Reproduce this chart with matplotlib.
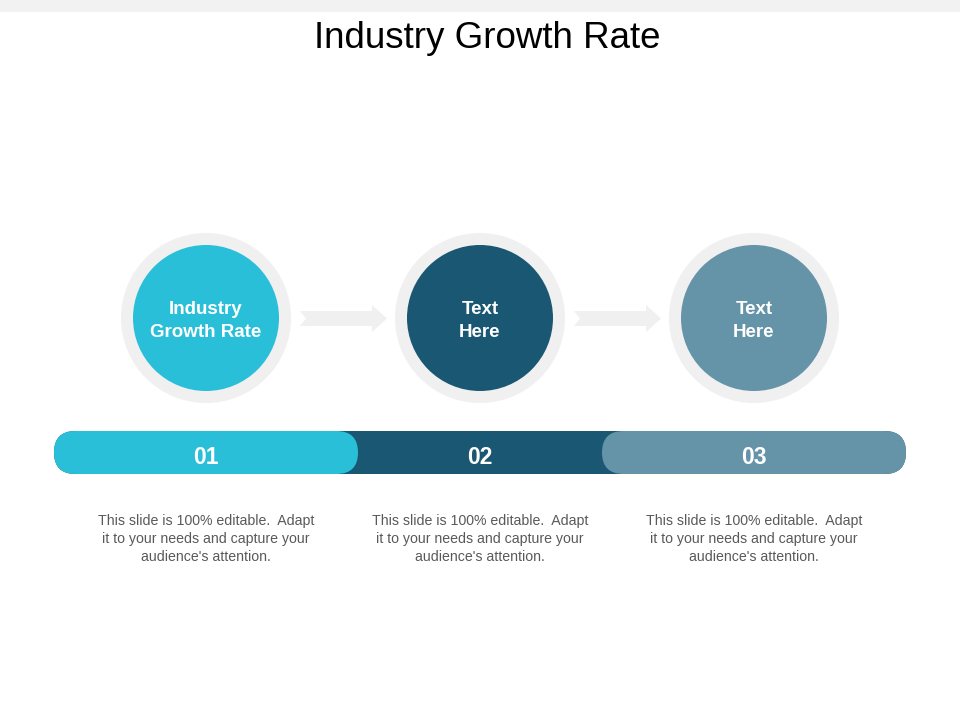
import matplotlib
matplotlib.use("Agg")
import matplotlib.pyplot as plt
from matplotlib.patches import Circle, FancyBboxPatch, Polygon, Rectangle

# data
step_labels = ["Industry\nGrowth Rate", "Text\nHere", "Text\nHere"]
step_numbers = ["01", "02", "03"]
step_colors = ["#29BFD9", "#1A5773", "#6593A8"]
descriptions = ["This slide is 100% editable.  Adapt\nit to your needs and capture your\naudience's attention."] * 3
title = "Industry Growth Rate"

plt.rcParams['font.family'] = ['Liberation Sans', 'DejaVu Sans']

fig = plt.figure(figsize=(9.6, 7.2), dpi=100)
ax = fig.add_axes([0, 0, 1, 1])
ax.set_xlim(0, 960)
ax.set_ylim(720, 0)
ax.axis('off')

# top band
ax.add_patch(Rectangle((0, 0), 960, 12, color="#F2F2F2", lw=0))
ax.text(487, 39, title, ha='center', va='center', fontsize=26.5, color="black")

centers = [206, 480, 754]
cy = 318

for i, cx in enumerate(centers):
    ax.add_patch(Circle((cx, cy), 85, color="#F0F0F0", lw=0))
    ax.add_patch(Circle((cx, cy), 73, color=step_colors[i], lw=0))
    ax.text(cx, cy + 3, step_labels[i], ha='center', va='center', fontsize=13.5,
            fontweight='bold', color='white', linespacing=1.4)

# arrows between circles
for cx in centers[:-1]:
    x0 = cx + 94
    pts = [(x0, 311), (x0 + 72, 311), (x0 + 72, 305), (x0 + 87, 318.5),
           (x0 + 72, 332), (x0 + 72, 326), (x0, 326), (x0 + 6, 318.5)]
    ax.add_patch(Polygon(pts, closed=True, color="#F0F0F0", lw=0))

# bottom bar
bar_y, bar_h = 431, 43
ax.add_patch(FancyBboxPatch((54, bar_y), 852, bar_h, boxstyle="round,pad=0,rounding_size=21.5",
                            color=step_colors[1], lw=0))
ax.add_patch(FancyBboxPatch((54, bar_y), 304, bar_h, boxstyle="round,pad=0,rounding_size=21.5",
                            color=step_colors[0], lw=0, zorder=3))
ax.add_patch(FancyBboxPatch((602, bar_y), 304, bar_h, boxstyle="round,pad=0,rounding_size=21.5",
                            color=step_colors[2], lw=0, zorder=3))

for i, cx in enumerate(centers):
    ax.text(cx, 458, step_numbers[i], ha='center', va='center', fontsize=16.5,
            fontweight='bold', color='white', zorder=4)
    ax.text(cx, 539, descriptions[i], ha='center', va='center', fontsize=10.2,
            color="#595959", linespacing=1.38)

fig.savefig("out.png", dpi=100)
